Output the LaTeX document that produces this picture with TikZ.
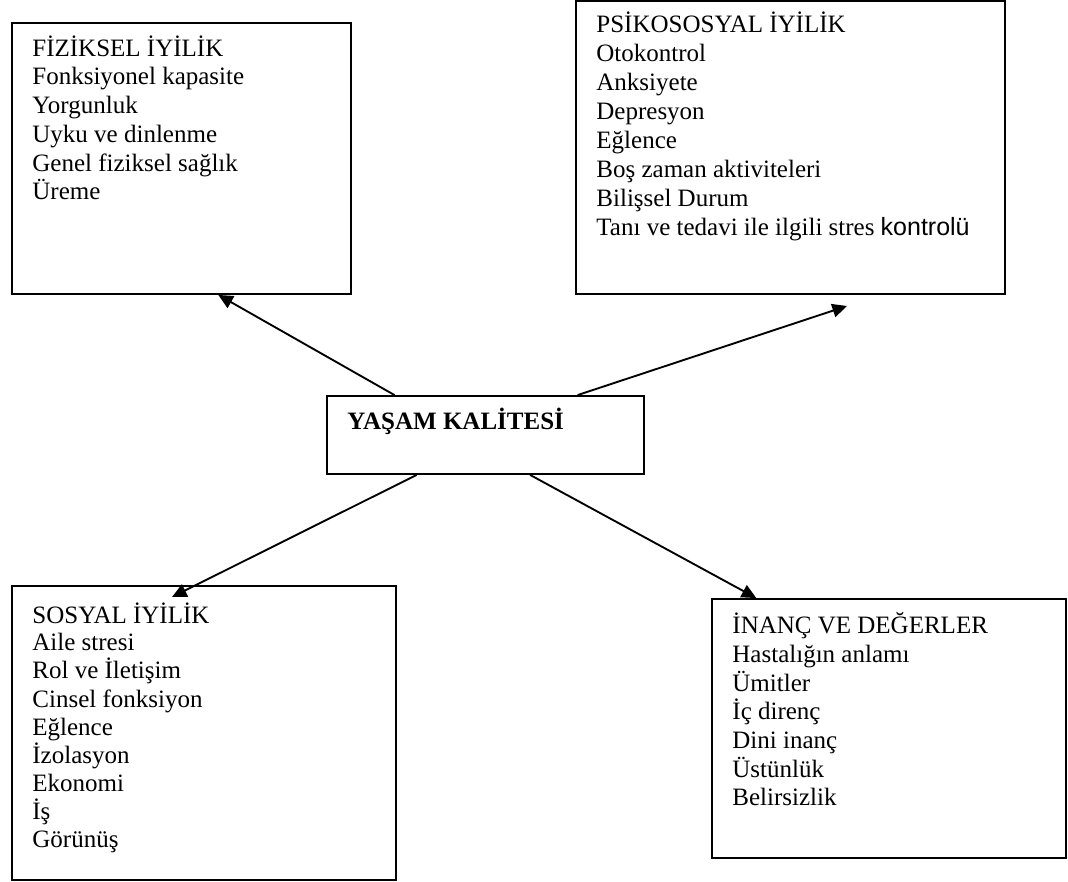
\documentclass[tikz,border=0pt]{standalone}
\usepackage{fontspec}
\setmainfont{Liberation Serif}
\newfontfamily\arialf{Liberation Sans}
\usetikzlibrary{arrows.meta,calc,fit}
\begin{document}
\begin{tikzpicture}[x=0.48pt,y=-0.48pt,
  panel/.style={draw, line width=0.9pt, rectangle, inner sep=0pt},
  itemtxt/.style={anchor=base west, align=left, inner sep=0pt},
  conn/.style={line width=0.9pt, -{Triangle[length=7pt,width=6.5pt]}}]
\useasboundingbox (0,0) rectangle (1068,882);

% boxes
\node[panel, fit={(12,23) (351,294)}] (fiz) {};
\node[panel, fit={(576,1) (1005,294)}] (psi) {};
\node[panel, fit={(327,396) (644,474)}] (qol) {};
\node[panel, fit={(12,586) (396,880)}] (sos) {};
\node[panel, fit={(712,599) (1066,858)}] (ina) {};

% texts (anchored at the baseline of their last line)
\node[itemtxt, font=\fontsize{12}{13.82}\selectfont] (fizt) at (32,200) {FİZİKSEL İYİLİK\\Fonksiyonel kapasite\\Yorgunluk\\Uyku ve dinlenme\\Genel fiziksel sağlık\\Üreme};
\node[itemtxt, font=\fontsize{12}{13.95}\selectfont] (psit) at (596,236) {PSİKOSOSYAL İYİLİK\\Otokontrol\\Anksiyete\\Depresyon\\Eğlence\\Boş zaman aktiviteleri\\Bilişsel Durum\\Tanı ve tedavi ile ilgili stres {\arialf kontrolü}};
\node[itemtxt, font=\fontsize{12}{13.73}\selectfont\bfseries] (qolt) at (347,430) {YAŞAM KALİTESİ};
\node[itemtxt, font=\fontsize{12}{13.44}\selectfont] (sost) at (32,847) {SOSYAL İYİLİK\\Aile stresi\\Rol ve İletişim\\Cinsel fonksiyon\\Eğlence\\İzolasyon\\Ekonomi\\İş\\Görünüş};
\node[itemtxt, font=\fontsize{12}{13.76}\selectfont] (inat) at (732,806) {İNANÇ VE DEĞERLER\\Hastalığın anlamı\\Ümitler\\İç direnç\\Dini inanç\\Üstünlük\\Belirsizlik};

% connector end points
\coordinate (s1) at ($(qol.north west)!0.2145!(qol.north east)$);
\coordinate (s2) at ($(qol.north west)!0.789!(qol.north east)$);
\coordinate (s3) at ($(qol.south west)!0.284!(qol.south east)$);
\coordinate (s4) at ($(qol.south west)!0.64!(qol.south east)$);
\coordinate (e1) at ($(fiz.south west)!0.608!(fiz.south east)$);
\coordinate (e2) at (847,306);
\coordinate (e3) at (172,597);
\coordinate (e4) at ($(ina.north west)!0.127!(ina.north east)$);

\draw[conn] (s1) -- (e1);
\draw[conn] (s2) -- (e2);
\draw[conn] (s3) -- (e3);
\draw[conn] (s4) -- (e4);
\end{tikzpicture}
\end{document}
